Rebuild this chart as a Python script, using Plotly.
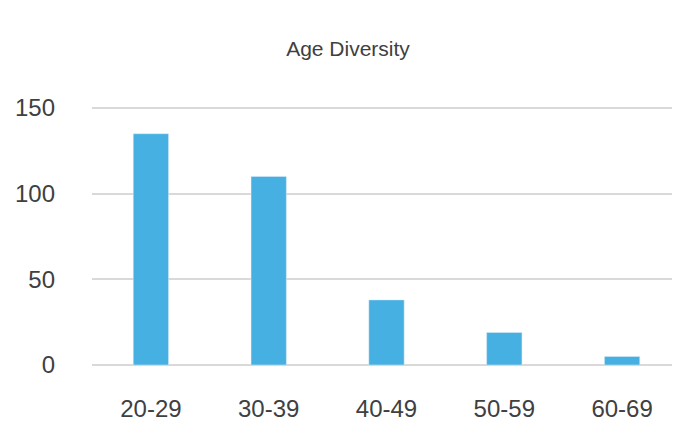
import plotly.graph_objects as go

ages = ["20-29", "30-39", "40-49", "50-59", "60-69"]
counts = [135, 110, 38, 19, 5]

fig = go.Figure(go.Bar(x=ages, y=counts, marker_color="#45B0E1", width=0.3))

fig.update_layout(
    width=680, height=430,
    margin=dict(l=73, r=7, t=99, b=73),
    plot_bgcolor="white", paper_bgcolor="white",
    font=dict(family="Liberation Sans, Arial", color="#404040"),
    title=dict(text="Age Diversity", x=0.5, xanchor="center", y=0.905, yanchor="middle",
               font=dict(size=21, color="#404040")),
    showlegend=False,
)
fig.update_xaxes(tickfont=dict(size=24, color="#404040"), showline=False,
                 ticks="outside", ticklen=22, tickcolor="rgba(0,0,0,0)")
fig.update_yaxes(range=[0, 150.6], tickvals=[0, 50, 100, 150], gridcolor="#d9d9d9",
                 gridwidth=1.5, zeroline=True, zerolinecolor="#d9d9d9", zerolinewidth=1.5,
                 tickfont=dict(size=24, color="#404040"), ticklabelstandoff=36)

fig.write_html("out.html")
